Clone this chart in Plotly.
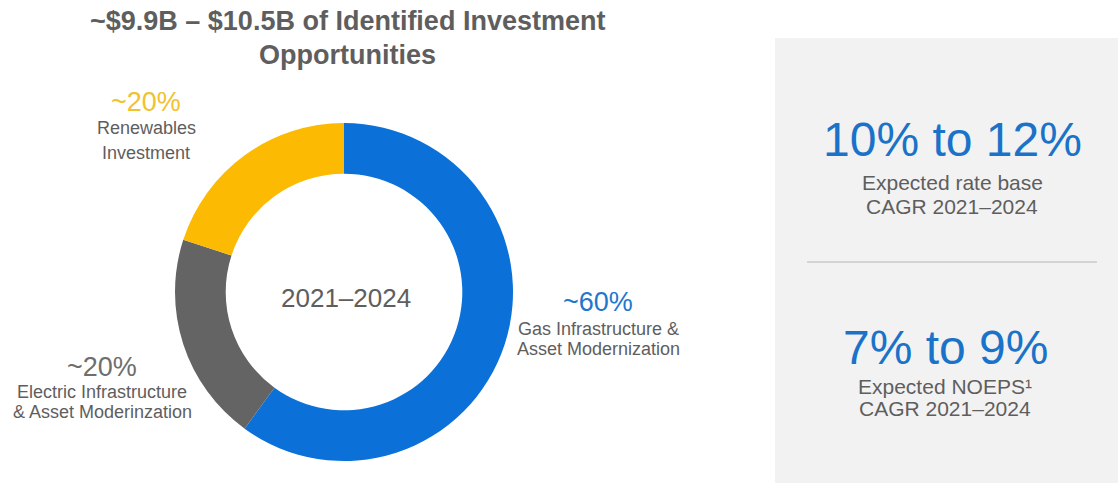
import plotly.graph_objects as go

# Investment mix 2021–2024 (share of identified opportunities, %)
categories = ["Gas Infrastructure & Asset Modernization",
              "Electric Infrastructure & Asset Moderinzation",
              "Renewables Investment"]
shares = [60, 20, 20]
slice_colors = ["#0B71D8", "#646464", "#FCBA03"]
label_colors = ["#1E78CC", "#6E6E6E", "#F2C12E"]
label_lines = [["Gas Infrastructure &", "Asset Modernization"],
               ["Electric Infrastructure", "& Asset Moderinzation"],
               ["Renewables", "Investment"]]

# Outlook panel
outlook_values = ["10% to 12%", "7% to 9%"]
outlook_notes = [["Expected rate base", "CAGR 2021–2024"],
                 ["Expected NOEPS¹", "CAGR 2021–2024"]]

W, H = 1118, 483
FONT = "Liberation Sans, Arial, sans-serif"
GRAY_TXT = "#5E5E5E"


def px(x):
    return x / W


def py(y):
    return 1 - y / H


# donut geometry in pixels
cx, cy, r = 344, 292, 169

fig = go.Figure()
fig.add_trace(go.Pie(
    labels=categories,
    values=shares,
    hole=0.70,
    sort=False,
    direction="clockwise",
    rotation=0,
    marker=dict(colors=slice_colors, line=dict(width=0)),
    textinfo="none",
    showlegend=False,
    domain=dict(x=[px(cx - r), px(cx + r)], y=[py(cy + r), py(cy - r)]),
))

annotations = []


def add_text(x, y, text, size, color, bold=False):
    annotations.append(dict(
        x=px(x), y=py(y), xref="paper", yref="paper",
        xanchor="center", yanchor="middle", showarrow=False,
        text=f"<b>{text}</b>" if bold else text,
        font=dict(family=FONT, size=size, color=color),
    ))


# title
add_text(347, 21, "~$9.9B – $10.5B of Identified Investment", 27, GRAY_TXT, bold=True)
add_text(347, 55, "Opportunities", 27, GRAY_TXT, bold=True)

# centre label
add_text(346, 298, "2021–2024", 26, GRAY_TXT)

# slice labels: (x, y of value, y of first line, y of second line)
label_pos = [(598, 302, 329, 349),
             (102, 367, 392, 412),
             (146, 102, 128, 153)]
for (x, yv, y1, y2), v, lines, col in zip(label_pos, shares, label_lines, label_colors):
    add_text(x, yv, f"~{v}%", 27, col)
    add_text(x, y1, lines[0], 18, GRAY_TXT)
    add_text(x, y2, lines[1], 18, GRAY_TXT)

# outlook panel text
outlook_pos = [(952, 140, 183, 206), (945, 347, 386, 408)]
for (x, yv, y1, y2), val, notes in zip(outlook_pos, outlook_values, outlook_notes):
    add_text(x, yv, val, 48, "#1A73C8")
    add_text(x, y1, notes[0], 21, GRAY_TXT)
    add_text(x, y2, notes[1], 21, GRAY_TXT)

shapes = [
    dict(type="rect", xref="paper", yref="paper",
         x0=px(775), x1=1, y0=0, y1=py(38),
         fillcolor="#F2F2F2", line=dict(width=0), layer="below"),
    dict(type="line", xref="paper", yref="paper",
         x0=px(807), x1=px(1097), y0=py(262), y1=py(262),
         line=dict(color="#CACACA", width=1.5)),
]

fig.update_layout(
    width=W, height=H,
    margin=dict(l=0, r=0, t=0, b=0),
    paper_bgcolor="white",
    plot_bgcolor="white",
    annotations=annotations,
    shapes=shapes,
)

fig.write_html("out.html")
